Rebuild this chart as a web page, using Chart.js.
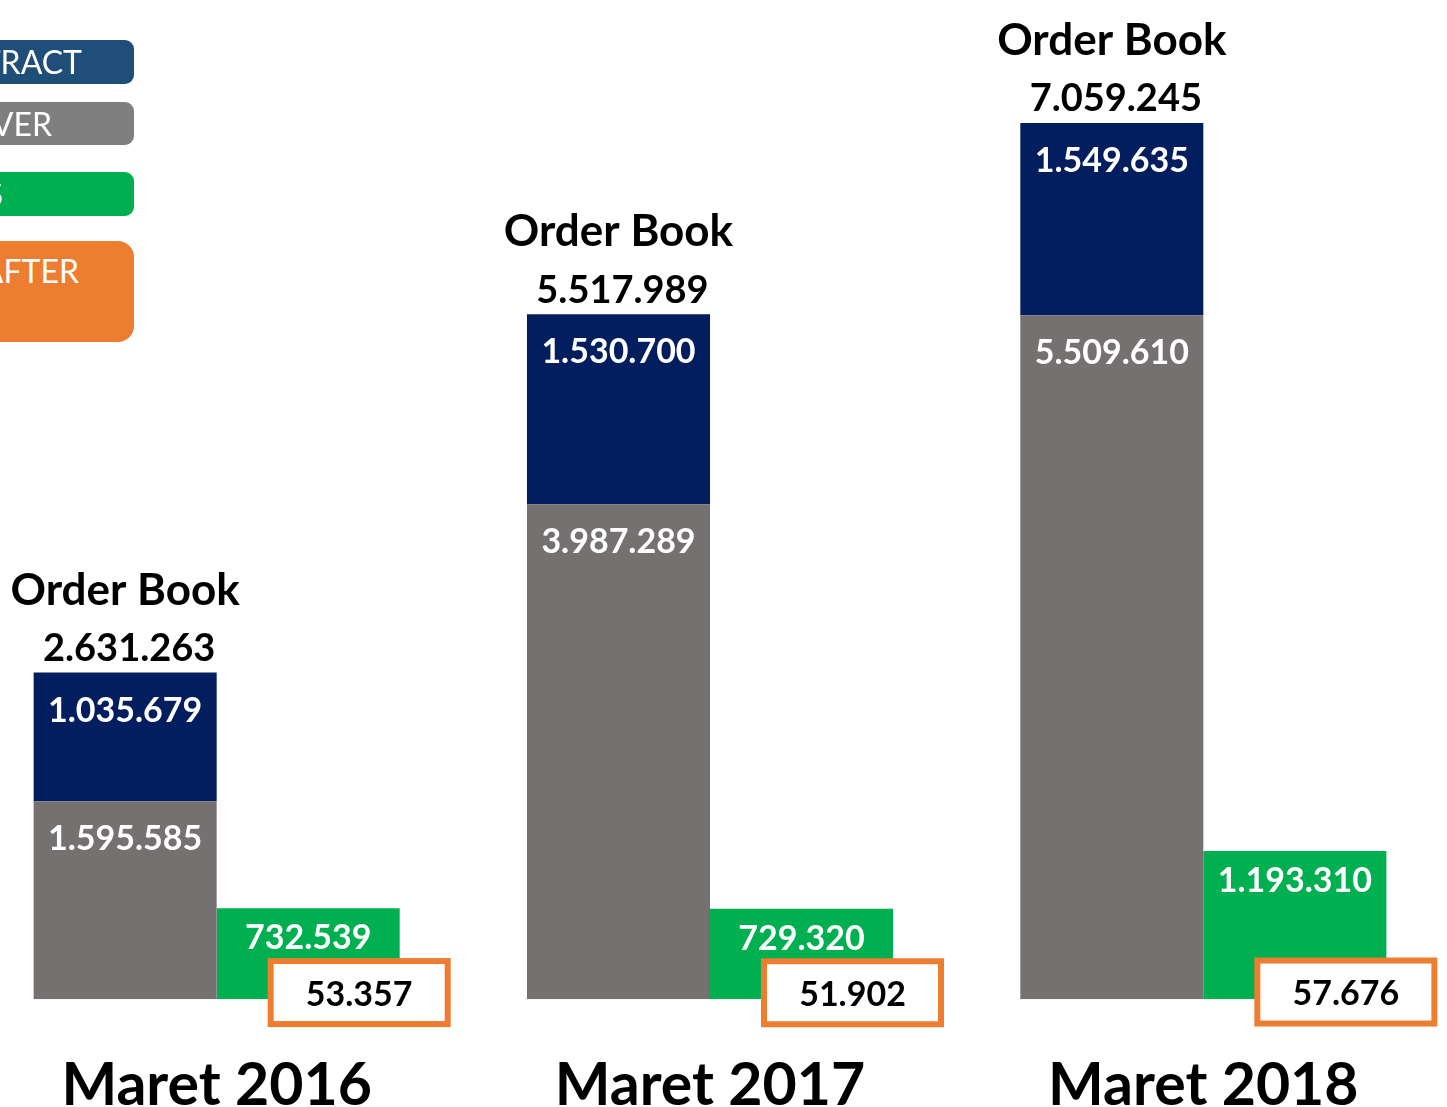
<!DOCTYPE html>
<html>
<head>
<meta charset="utf-8">
<title>Order Book</title>
<script src="https://cdn.jsdelivr.net/npm/chart.js@4.4.1/dist/chart.umd.min.js"></script>
<style>
  body { margin: 0; background: #fff; overflow: hidden; font-family: Lato, sans-serif; }
  #wrap { position: absolute; left: -30px; top: 0; width: 1480px; height: 1172px; }
  .leg { position: absolute; left: -300px; width: 434px; color: #fff; font-size: 32px;
         text-align: right; box-sizing: border-box; border-radius: 9px; white-space: nowrap; }
</style>
</head>
<body>
<div id="wrap"><canvas id="chart" width="1480" height="1172"></canvas></div>

<!-- legend (cut off on the left, like the original slide) -->
<div class="leg" style="top:40px;height:44px;line-height:44px;background:#1F4E79;padding-right:52px;">NEW CONTRACT</div>
<div class="leg" style="top:102px;height:43px;line-height:43px;background:#7F7F7F;padding-right:82px;">CARRY OVER</div>
<div class="leg" style="top:172px;height:44px;line-height:44px;background:#00B050;padding-right:131px;">SALES</div>
<div class="leg" style="top:241px;height:101px;line-height:60px;background:#ED7D31;padding-right:55px;border-radius:16px;">NET PROFIT AFTER</div>

<script>
const categories = ['Maret 2016', 'Maret 2017', 'Maret 2018'];
const carryOver = [1595585, 3987289, 5509610];
const newContract = [1035679, 1530700, 1549635];
const sales = [732539, 729320, 1193310];
const profitAfter = [53357, 51902, 57676];
const orderBook = [2631263, 5517989, 7059245];

function fmt(v) {
  return String(v).replace(/\B(?=(\d{3})+(?!\d))/g, '.');
}

const labelPlugin = {
  id: 'labels',
  afterDatasetsDraw(chart) {
    const ctx = chart.ctx;
    const yScale = chart.scales.y;
    const offsets = [38, 38, 30];
    ctx.save();
    ctx.textAlign = 'center';
    ctx.textBaseline = 'middle';

    // values inside the bars
    chart.data.datasets.forEach((ds, di) => {
      chart.getDatasetMeta(di).data.forEach((bar, i) => {
        const top = Math.min(bar.y, bar.base);
        ctx.fillStyle = '#fff';
        ctx.font = 'bold 34px Lato';
        ctx.fillText(fmt(ds.data[i]), bar.x, top + offsets[di]);
      });
    });

    // order book totals above the stacks
    chart.getDatasetMeta(1).data.forEach((bar, i) => {
      ctx.fillStyle = '#000';
      ctx.font = 'bold 38px Lato';
      ctx.fillText(fmt(orderBook[i]), bar.x + 4, bar.y - 24);
      ctx.font = 'bold 44px Lato';
      ctx.fillText('Order Book', bar.x, bar.y - 82);
    });

    // orange boxed values next to the sales bars
    chart.getDatasetMeta(2).data.forEach((bar, i) => {
      const w = bar.width - 6;
      const h = 63;
      const left = bar.x - bar.width / 2 + 54;
      const cy = yScale.getPixelForValue(profitAfter[i]);
      ctx.fillStyle = '#fff';
      ctx.fillRect(left, cy - h / 2, w, h);
      ctx.lineWidth = 6;
      ctx.strokeStyle = '#ED7D31';
      ctx.strokeRect(left, cy - h / 2, w, h);
      ctx.fillStyle = '#000';
      ctx.font = 'bold 34px Lato';
      ctx.fillText(fmt(profitAfter[i]), left + w / 2, cy + 2);
    });
    ctx.restore();
  }
};

new Chart(document.getElementById('chart'), {
  type: 'bar',
  data: {
    labels: categories,
    datasets: [
      { label: 'CARRY OVER', data: carryOver, backgroundColor: '#767171', stack: 'ob' },
      { label: 'NEW CONTRACT', data: newContract, backgroundColor: '#021E5E', stack: 'ob' },
      { label: 'SALES', data: sales, backgroundColor: '#00B050', stack: 'sales' }
    ]
  },
  options: {
    responsive: false,
    animation: false,
    categoryPercentage: 0.742,
    barPercentage: 1,
    layout: { padding: 0 },
    plugins: { legend: { display: false }, tooltip: { enabled: false } },
    scales: {
      x: {
        stacked: true,
        grid: { display: false, drawTicks: false },
        border: { display: false },
        ticks: { color: '#000', padding: 51, font: { family: 'Lato', weight: 'bold', size: 59 } }
      },
      y: { stacked: true, display: false, min: 0, max: 8050000 }
    }
  },
  plugins: [labelPlugin]
});
</script>
</body>
</html>
